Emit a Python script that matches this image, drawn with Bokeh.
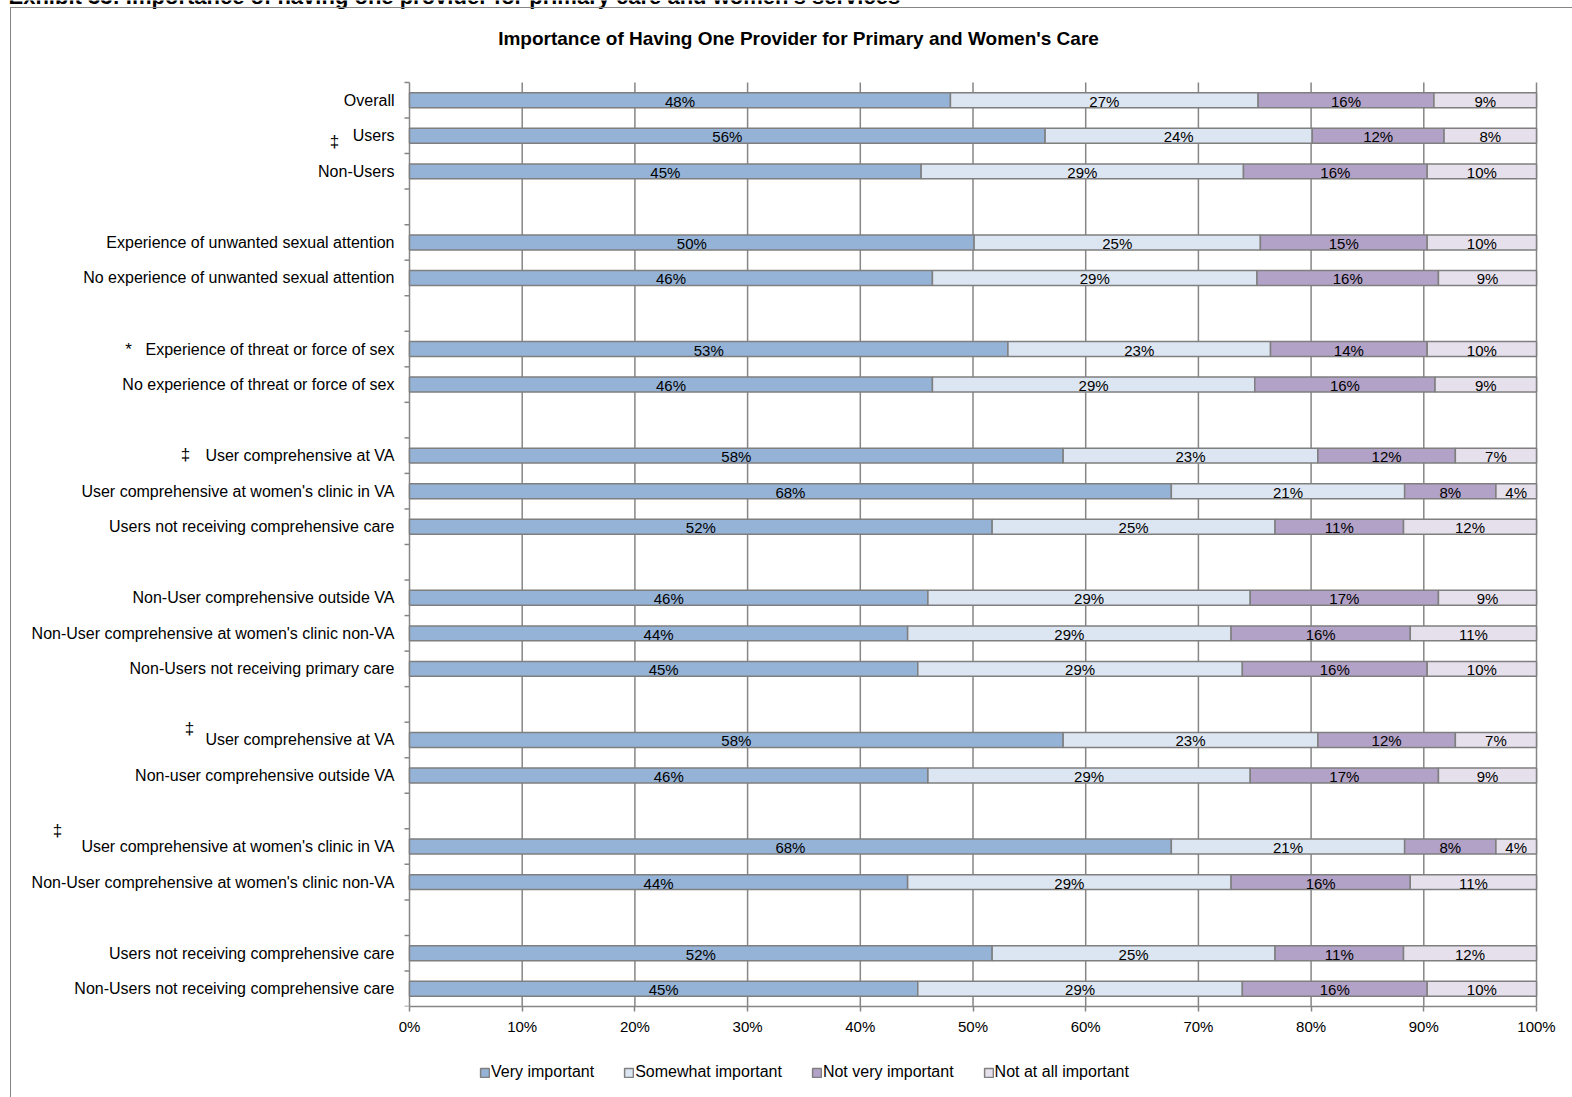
import math

from bokeh.plotting import figure
from bokeh.layouts import column
from bokeh.models import (ColumnDataSource, Range1d, FixedTicker, Label, Legend,
                          LegendItem, InlineStyleSheet)
from bokeh.embed import file_html
from bokeh.resources import INLINE
from bokeh.core.properties import value

# Row labels, top to bottom; empty strings are spacer rows between groups
categories = [
    "Overall", "Users", "Non-Users", "",
    "Experience of unwanted sexual attention", "No experience of unwanted sexual attention", "",
    "Experience of threat or force of sex", "No experience of threat or force of sex", "",
    "User comprehensive at VA", "User comprehensive at women's clinic in VA",
    "Users not receiving comprehensive care", "",
    "Non-User comprehensive outside VA", "Non-User comprehensive at women's clinic non-VA",
    "Non-Users not receiving primary care", "",
    "User comprehensive at VA", "Non-user comprehensive outside VA", "",
    "User comprehensive at women's clinic in VA", "Non-User comprehensive at women's clinic non-VA", "",
    "Users not receiving comprehensive care", "Non-Users not receiving comprehensive care",
]

# Percent of respondents per answer (None on spacer rows)
very_important = [48.0, 56.4, 45.4, None, 50.1, 46.4, None, 53.1, 46.4, None,
                  58.0, 67.6, 51.7, None, 46.0, 44.2, 45.1, None, 58.0, 46.0, None,
                  67.6, 44.2, None, 51.7, 45.1]
somewhat_important = [27.3, 23.7, 28.6, None, 25.4, 28.8, None, 23.3, 28.6, None,
                      22.6, 20.7, 25.1, None, 28.6, 28.7, 28.8, None, 22.6, 28.6, None,
                      20.7, 28.7, None, 25.1, 28.8]
not_very_important = [15.6, 11.7, 16.3, None, 14.8, 16.1, None, 13.9, 16.0, None,
                      12.2, 8.1, 11.4, None, 16.7, 15.9, 16.4, None, 12.2, 16.7, None,
                      8.1, 15.9, None, 11.4, 16.4]
not_at_all_important = [9.1, 8.2, 9.7, None, 9.7, 8.7, None, 9.7, 9.0, None,
                        7.2, 3.6, 11.8, None, 8.7, 11.2, 9.7, None, 7.2, 8.7, None,
                        3.6, 11.2, None, 11.8, 9.7]

series_names = ["Very important", "Somewhat important", "Not very important", "Not at all important"]
series_values = [very_important, somewhat_important, not_very_important, not_at_all_important]
series_colors = ["#95B3D7", "#DCE6F2", "#B3A2C7", "#E6E0EC"]

x_ticks = list(range(0, 101, 10))
x_tick_labels = [f"{t}%" for t in x_ticks]

chart_title = "Importance of Having One Provider for Primary and Women's Care"
exhibit_title = "Exhibit 33: Importance of having one provider for primary care and women's services"

# significance markers: row number, symbol, and pixel nudges from the axis
marker_rows = [2, 8, 11, 19, 22]
marker_symbols = ["\u2021", "*", "\u2021", "\u2021", "\u2021"]
marker_dx = [-75, -281, -224, -220, -352]
marker_dy = [6, 0, -1, -11, -16]

# ---- layout ----
W = 1572
MAIN_H, LEGEND_H = 1040, 57
PLOT_L, PLOT_R, PLOT_T, PLOT_B = 409, 1536, 82, 1006   # data area in page pixels
FONT = value("Liberation Sans")
GRID = "#868686"
EDGE = "#7F7F7F"


def left_border(top):
    css = (":host::after { content: ''; position: absolute; left: 10.25px; top: %gpx; "
           "right: 0; bottom: 0; border-left: 1.5px solid %s; %s pointer-events: none; }"
           % (top, GRID, "border-top: 1.5px solid %s;" % GRID if top > 0 else ""))
    return [InlineStyleSheet(css=css)]


n_rows = len(categories)
rows = [i + 1 for i in range(n_rows) if very_important[i] is not None]

px_per_pct = (PLOT_R - PLOT_L) / 100.0
px_per_row = (PLOT_B - PLOT_T) / n_rows
x_range = Range1d(-PLOT_L / px_per_pct, 100 + (W - PLOT_R) / px_per_pct)
y_range = Range1d(n_rows + 0.5, 0.5 - PLOT_T / px_per_row)

p = figure(width=W, height=MAIN_H, output_backend="svg", toolbar_location=None,
           x_range=x_range, y_range=y_range,
           min_border_left=0, min_border_right=0, min_border_top=0,
           min_border_bottom=MAIN_H - PLOT_B)
p.outline_line_color = None
p.background_fill_color = "white"
p.border_fill_color = "white"
p.xgrid.visible = False
p.ygrid.visible = False
p.yaxis.visible = False

# vertical gridlines at every tick
p.segment(x0=x_ticks, x1=x_ticks, y0=[0.5] * len(x_ticks), y1=[n_rows + 0.5] * len(x_ticks),
          line_color=GRID, line_width=1.5)

# small ticks between rows on the category axis
boundaries = [i + 0.5 for i in range(n_rows + 1)]
p.ray(x=[0] * len(boundaries), y=boundaries, length=5, length_units="screen",
      angle=math.pi, line_color=GRID, line_width=1.5)

# stacked segments
left = [0.0] * n_rows
for name, vals, color in zip(series_names, series_values, series_colors):
    ys, ls, rs, mids, labels = [], [], [], [], []
    for r in rows:
        v = vals[r - 1]
        ys.append(r)
        ls.append(left[r - 1])
        rs.append(left[r - 1] + v)
        mids.append(left[r - 1] + v / 2)
        labels.append(f"{v:.0f}%")
        left[r - 1] += v
    src = ColumnDataSource(dict(y=ys, left=ls, right=rs, mid=mids, label=labels))
    p.hbar(y="y", left="left", right="right", height=0.42, source=src,
           fill_color=color, line_color=EDGE, line_width=1.5)
    p.text(x="mid", y="y", text="label", source=src, text_align="center",
           text_baseline="middle", text_font=FONT, text_font_size="15px",
           text_color="black", y_offset=1)

# category names to the left of the axis
cat_src = ColumnDataSource(dict(y=rows, x=[0] * len(rows), name=[categories[r - 1] for r in rows]))
p.text(x="x", y="y", text="name", source=cat_src, x_offset=-15, text_align="right",
       text_baseline="middle", text_font=FONT, text_font_size="16px", text_color="black")

# significance markers
mk_src = ColumnDataSource(dict(y=marker_rows, x=[0] * len(marker_rows), sym=marker_symbols,
                               dx=marker_dx, dy=marker_dy))
p.text(x="x", y="y", text="sym", source=mk_src, x_offset="dx", y_offset="dy",
       text_align="center", text_baseline="middle", text_font=FONT,
       text_font_size="17px", text_color="black")

# x axis
xt = FixedTicker(ticks=x_ticks)
p.xaxis.ticker = xt
p.xaxis.bounds = (0, 100)
p.xaxis.major_label_overrides = {t: lbl for t, lbl in zip(x_ticks, x_tick_labels)}
p.xaxis.axis_line_color = GRID
p.xaxis.axis_line_width = 1.5
p.xaxis.major_tick_line_color = GRID
p.xaxis.major_tick_line_width = 1.5
p.xaxis.major_tick_out = 5
p.xaxis.major_tick_in = 0
p.xaxis.minor_tick_line_color = None
p.xaxis.major_label_text_font = "Liberation Sans"
p.xaxis.major_label_text_font_size = "15px"
p.xaxis.major_label_text_color = "black"
p.xaxis.major_label_standoff = 6

# titles
p.add_layout(Label(x=798, y=PLOT_B - 38, x_units="screen", y_units="screen", text=chart_title,
                   text_align="center", text_baseline="middle", text_font="Liberation Sans",
                   text_font_style="bold", text_font_size="19px", text_color="black"))
p.add_layout(Label(x=8, y=PLOT_B + 4, x_units="screen", y_units="screen", text=exhibit_title,
                   text_align="left", text_baseline="alphabetic", text_font="Liberation Sans",
                   text_font_style="bold", text_font_size="22px", text_color="black"))
p.stylesheets = left_border(7.25)

# legend strip under the chart; its keys are styled like the bars
leg = figure(width=W, height=LEGEND_H, output_backend="svg", toolbar_location=None,
             x_range=Range1d(0, 1), y_range=Range1d(0, 1), x_axis_type=None, y_axis_type=None,
             min_border=0)
leg.outline_line_color = None
leg.grid.visible = False
items = []
for name, color in zip(series_names, series_colors):
    key = leg.hbar(y=[math.nan], left=[math.nan], right=[math.nan], height=0.5,
                   fill_color=color, line_color=EDGE, line_width=1.5)
    items.append(LegendItem(label=name, renderers=[key]))
legend = Legend(items=items, orientation="horizontal", location=(479, 16),
                border_line_color=None, background_fill_alpha=0, padding=0, margin=0,
                spacing=29, glyph_width=11, glyph_height=11, label_standoff=1,
                label_height=16, label_text_font="Liberation Sans",
                label_text_font_size="16px", label_text_color="black")
leg.add_layout(legend)
leg.stylesheets = left_border(0)

page = column(p, leg, spacing=0)
open("out.html", "w").write(file_html(page, INLINE))
